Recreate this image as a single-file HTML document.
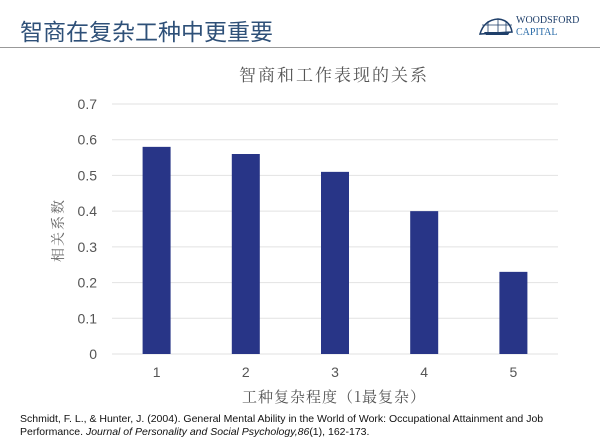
<!DOCTYPE html>
<html><head><meta charset="utf-8"><style>
body{margin:0;width:600px;height:448px;background:#fff;overflow:hidden;position:relative;font-family:"Liberation Sans","Noto Sans CJK SC",sans-serif}
.t{position:absolute;white-space:nowrap}
</style></head><body>
<div class="t" style="left:20px;top:13px;font-size:23px;color:#2e5078">智商在复杂工种中更重要</div>
<div style="position:absolute;left:476px;top:14px;width:110px;height:26px">
<svg width="40" height="22" style="position:absolute;left:0;top:2px"><path d="M4 18 Q8 4 22 3 Q34 4 36 16 Z" fill="none" stroke="#1f3f6a" stroke-width="1.5"/><path d="M8 16 L34 16 L32 19 L10 19Z" fill="#1f3f6a"/><path d="M6 9 L36 9 M12 5 L12 16 M22 3 L22 16 M30 5 L30 16" stroke="#1f3f6a" stroke-width="0.8"/></svg>
<div class="t" style="left:40px;top:1px;font-family:'Liberation Serif',serif;font-size:10px;color:#1f3f6a">WOODSFORD</div>
<div class="t" style="left:40px;top:13px;font-family:'Liberation Serif',serif;font-size:10px;color:#2b6ca8">CAPITAL</div>
</div>
<div style="position:absolute;left:0;top:47px;width:600px;height:1px;background:#999"></div>
<svg id="chart" width="600" height="448" style="position:absolute;left:0;top:0">
<text x="334" y="81" text-anchor="middle" font-size="17" fill="#555" font-family="'Noto Serif CJK SC',serif" letter-spacing="2">智商和工作表现的关系</text>
<text transform="translate(63,230) rotate(-90)" text-anchor="middle" font-size="14" fill="#666" font-family="'Noto Serif CJK SC',serif" letter-spacing="2">相关系数</text>
<text x="334" y="402" text-anchor="middle" font-size="15" fill="#555" font-family="'Noto Serif CJK SC',serif" letter-spacing="1">工种复杂程度（1最复杂）</text>
<g id="g"></g>
</svg>
<div class="t" style="left:20px;top:413px;font-size:10.5px;line-height:13px;color:#111">Schmidt, F. L., &amp; Hunter, J. (2004). General Mental Ability in the World of Work: Occupational Attainment and Job<br>Performance. <i>Journal of Personality and Social Psychology,86</i>(1), 162-173.</div>
<script>
const categories=["1","2","3","4","5"];
const values=[0.58,0.56,0.51,0.40,0.23];
const yTicks=[0,0.1,0.2,0.3,0.4,0.5,0.6,0.7];
const X0=112,X1=558,Y0=354,Y1=104,YMAX=0.7;
const y=v=>Y0-(v/YMAX)*(Y0-Y1);
const band=(X1-X0)/categories.length;
const xc=i=>X0+band*(i+0.5);
const g=document.getElementById('g');
const NS='http://www.w3.org/2000/svg';
function mk(t,a){const e=document.createElementNS(NS,t);for(const k in a)e.setAttribute(k,a[k]);g.appendChild(e);return e;}
yTicks.forEach(v=>{
const l=mk('line',{x1:X0,x2:X1,y1:y(v),y2:y(v),stroke:'#e2e2e2','stroke-width':1});


const t=mk('text',{x:97,y:y(v)+5,'text-anchor':'end','font-size':14,fill:'#555'});
t.textContent=v===0?'0':v.toFixed(1);


});
categories.forEach((c,i)=>{
const r=mk('rect',{x:xc(i)-14,y:y(values[i]),width:28,height:Y0-y(values[i]),fill:'#283587'});


const t=mk('text',{x:xc(i),y:377,'text-anchor':'middle','font-size':14,fill:'#555'});
t.textContent=c;


});
</script>
</body></html>
